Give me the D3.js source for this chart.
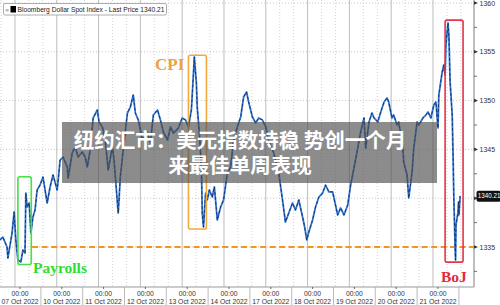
<!DOCTYPE html>
<html lang="zh">
<head>
  <meta charset="UTF-8">
  <title>Bloomberg Dollar Spot Index</title>
  <script src="https://cdn.jsdelivr.net/npm/d3@7"></script>
  <style>
    body { margin: 0; background: #fff; }
    svg { display: block; }
  </style>
</head>
<body>
<div id="grafica"></div>
<script>
// trading days since 07 Oct 2022 00:00 (weekend removed)
dayOffsets = [-0.48,-0.41,-0.31,-0.29,-0.19,-0.14,-0.10,-0.05,0.02,0.07,0.12,0.14,0.17,0.22,0.26,0.31,0.36,0.41,0.48,0.55,
  0.65,0.72,0.79,0.89,0.96,1.03,1.13,1.15,1.25,1.32,1.39,1.49,1.56,1.61,1.68,1.75,1.85,1.89,1.97,2.04,
  2.11,2.21,2.25,2.33,2.35,2.40,2.47,2.57,2.64,2.71,2.76,2.83,2.93,3.05,3.12,3.19,3.29,3.36,3.43,3.53,
  3.60,3.67,3.79,3.88,3.96,4.03,4.10,4.15,4.17,4.22,4.24,4.29,4.34,4.36,4.39,4.44,4.48,4.53,4.60,4.65,
  4.72,4.80,4.87,4.96,5.04,5.11,5.20,5.28,5.35,5.42,5.47,5.56,5.64,5.71,5.80,5.88,5.95,6.07,6.19,6.28,
  6.35,6.43,6.52,6.59,6.67,6.76,6.81,6.86,6.91,7.00,7.07,7.15,7.24,7.31,7.39,7.48,7.60,7.67,7.75,7.84,
  7.91,7.99,8.08,8.15,8.23,8.27,8.35,8.42,8.47,8.56,8.63,8.71,8.78,8.82,8.90,8.94,9.02,9.06,9.16,9.18,
  9.26,9.30,9.38,9.42,9.50,9.54,9.64,9.71,9.76,9.83,9.90,9.95,10.00,10.02,10.10,10.14,10.17,10.19,10.24,10.26,
  10.29,10.34,10.36,10.38,10.41,10.42,10.43,10.48,10.49,10.50,10.53]
prices = [1335.72,1336.02,1335.00,1333.87,1336.43,1338.59,1335.72,1333.67,1333.46,1334.69,1334.39,1340.53,1339.10,1339.51,1336.43,1338.07,1338.79,1340.84,1341.35,1342.17,
  1339.51,1341.15,1342.38,1340.84,1343.91,1344.22,1343.20,1342.07,1344.63,1345.25,1344.22,1344.73,1344.22,1343.20,1344.94,1348.22,1349.04,1347.81,1347.30,1345.96,
  1342.89,1345.25,1343.91,1339.51,1338.48,1342.17,1344.94,1348.73,1349.34,1350.57,1348.73,1348.01,1345.96,1346.78,1345.66,1348.52,1349.04,1348.01,1346.78,1345.96,
  1347.30,1346.68,1347.19,1348.22,1348.01,1347.30,1349.04,1352.83,1354.47,1351.80,1349.34,1346.68,1343.20,1338.48,1337.05,1340.53,1339.82,1340.84,1340.12,1341.15,
  1337.77,1339.10,1339.82,1342.58,1343.20,1345.96,1347.30,1348.32,1350.37,1350.88,1349.86,1348.32,1347.70,1348.22,1348.01,1347.30,1345.96,1344.63,1342.58,1339.82,
  1337.56,1338.48,1339.51,1338.79,1339.82,1338.07,1337.05,1335.72,1336.54,1337.77,1339.10,1340.12,1340.53,1341.35,1340.64,1340.64,1338.28,1339.00,1338.28,1339.30,
  1341.35,1343.09,1345.14,1346.78,1348.22,1345.14,1347.81,1348.73,1348.22,1347.81,1348.83,1349.86,1350.27,1349.86,1348.22,1348.52,1347.50,1347.81,1345.14,1343.71,
  1342.38,1340.02,1342.68,1345.14,1347.81,1347.50,1348.22,1348.52,1348.83,1348.22,1349.55,1349.86,1347.19,1350.57,1352.93,1353.65,1352.62,1355.70,1357.95,1356.72,
  1351.91,1348.52,1344.43,1339.82,1334.90,1333.67,1337.25,1338.59,1339.61,1338.28,1340.21]

dayLabels = ['07 Oct 2022','10 Oct 2022','11 Oct 2022','12 Oct 2022','13 Oct 2022','14 Oct 2022',
             '17 Oct 2022','18 Oct 2022','19 Oct 2022','20 Oct 2022','21 Oct 2022']
yTicks = [1335, 1340, 1345, 1350, 1355, 1360]
yMinorTicks = [1332.5, 1337.5, 1342.5, 1347.5, 1352.5, 1357.5]
lastPrice = 1340.21
payrollsLevel = 1335

// event boxes: [t0, t1, vLow, vHigh]
eventNames = ['Payrolls', 'CPI', 'BoJ']
eventSpans = [[-0.05, 0.27, 1333.2, 1342.2], [4.03, 4.46, 1336.85, 1354.65], [10.17, 10.60, 1333.45, 1358.25]]

ancho = 500
alto = 305

svg = d3.select('#grafica')
  .append('svg')
  .attr('width', ancho)
  .attr('height', alto)

x = d3.scaleLinear().domain([0, 10]).range([20, 438])
y = d3.scaleLinear().domain([1335, 1360]).range([247, 3])

plotRight = 474
plotBottom = 287

data = dayOffsets.map((t, i) => ({ t: t, v: prices[i] }))

// vertical grid: solid at session start, dotted every 8h
dias = d3.range(-1, 11)
dias.forEach(function(k) {
  s = k - 0.12
  if (x(s) > 0 && x(s) < plotRight) {
    svg.append('line').attr('x1', x(s)).attr('x2', x(s)).attr('y1', 0).attr('y2', plotBottom)
      .attr('stroke', '#bdbdbd').attr('stroke-width', 1)
  }
  ;[1/3, 2/3].forEach(function(f) {
    xx = x(s + f)
    if (xx > 0 && xx < plotRight) {
      svg.append('line').attr('x1', xx).attr('x2', xx).attr('y1', 0).attr('y2', plotBottom)
        .attr('stroke', '#c8c8c8').attr('stroke-width', 0.8).attr('stroke-dasharray', '1,2')
    }
  })
})

// horizontal grid
svg.selectAll('.hgrid').data(yTicks).enter().append('line')
  .attr('x1', 0).attr('x2', plotRight)
  .attr('y1', d => y(d)).attr('y2', d => y(d))
  .attr('stroke', '#bbbbbb').attr('stroke-width', 0.8).attr('stroke-dasharray', '1,2')

// payrolls low level
svg.append('line')
  .attr('x1', x(0.29)).attr('x2', plotRight)
  .attr('y1', y(payrollsLevel)).attr('y2', y(payrollsLevel))
  .attr('stroke', '#f7941d').attr('stroke-width', 2.2).attr('stroke-dasharray', '6,3.5')

// price line
linea = d3.line().x(d => x(d.t)).y(d => y(d.v))
svg.append('path').datum(data).attr('d', linea)
  .attr('fill', 'none').attr('stroke', '#3478d8').attr('stroke-width', 1.8)
  .attr('stroke-linejoin', 'round')
svg.append('path').datum(data).attr('d', linea)
  .attr('fill', 'none').attr('stroke', '#0b1830').attr('stroke-width', 0.8)
  .attr('stroke-dasharray', '3,2').attr('opacity', 0.85)

// event boxes
colores = ['#44e044', '#f2aa3c', '#e8344a']
eventSpans.forEach(function(e, i) {
  svg.append('rect')
    .attr('x', x(e[0])).attr('y', y(e[3]))
    .attr('width', x(e[1]) - x(e[0])).attr('height', y(e[2]) - y(e[3]))
    .attr('rx', 2).attr('fill', 'none')
    .attr('stroke', colores[i]).attr('stroke-width', 1.6)
})
svg.append('text').attr('x', x(0.31)).attr('y', 272.5).text(eventNames[0])
  .attr('font-family', 'Liberation Serif, serif').attr('font-weight', 'bold')
  .attr('font-size', '15.5px').attr('fill', '#2ede2e')
svg.append('text').attr('x', 155).attr('y', 69.5).text(eventNames[1])
  .attr('font-family', 'Liberation Serif, serif').attr('font-weight', 'bold')
  .attr('font-size', '17px').attr('fill', '#f0a13a')
svg.append('text').attr('x', 441).attr('y', 281.5).text(eventNames[2])
  .attr('font-family', 'Liberation Serif, serif').attr('font-weight', 'bold')
  .attr('font-size', '15.5px').attr('fill', '#e02a3c')

// right axis
svg.append('line').attr('x1', plotRight).attr('x2', plotRight).attr('y1', 0).attr('y2', plotBottom)
  .attr('stroke', '#a8a8a8').attr('stroke-width', 1.5)
svg.selectAll('.tmin').data(yMinorTicks.filter(d => y(d) > 0 && y(d) < plotBottom)).enter().append('line')
  .attr('x1', plotRight).attr('x2', plotRight + 3)
  .attr('y1', d => y(d)).attr('y2', d => y(d))
  .attr('stroke', '#555').attr('stroke-width', 0.8)
svg.selectAll('.tmaj').data(yTicks).enter().append('path')
  .attr('d', d => 'M' + plotRight + ',' + (y(d) - 1.8) + 'L' + (plotRight + 4) + ',' + y(d) + 'L' + plotRight + ',' + (y(d) + 1.8) + 'Z')
  .attr('fill', '#333')
// the 1340 label sits under the last price tag
svg.selectAll('.ylab').data(yTicks.filter(d => Math.abs(d - lastPrice) > 1)).enter().append('text')
  .attr('x', plotRight + 5.5).attr('y', d => y(d) + 2.5)
  .text(d => d)
  .attr('font-family', 'Liberation Sans, Arial, sans-serif').attr('font-size', '7px').attr('fill', '#333')

// last price tag
svg.append('rect').attr('x', plotRight + 2.5).attr('y', y(lastPrice) - 5.5)
  .attr('width', 24).attr('height', 11).attr('rx', 2).attr('fill', '#111')
svg.append('text').attr('x', plotRight + 3.8).attr('y', y(lastPrice) + 2.3)
  .text(lastPrice.toFixed(2))
  .attr('font-family', 'Liberation Sans, Arial, sans-serif').attr('font-size', '6.3px').attr('fill', '#fff')

// bottom axis
svg.append('line').attr('x1', 0).attr('x2', plotRight).attr('y1', plotBottom).attr('y2', plotBottom)
  .attr('stroke', '#999').attr('stroke-width', 1)
svg.selectAll('.sep').data(d3.range(0, 11)).enter().append('line')
  .attr('x1', d => x(d + 0.5)).attr('x2', d => x(d + 0.5))
  .attr('y1', plotBottom).attr('y2', alto)
  .attr('stroke', '#aaa').attr('stroke-width', 0.8)
svg.selectAll('.tk').data(d3.range(0, 11)).enter().append('line')
  .attr('x1', d => x(d)).attr('x2', d => x(d))
  .attr('y1', plotBottom).attr('y2', plotBottom + 2)
  .attr('stroke', '#444').attr('stroke-width', 0.8)
svg.selectAll('.hora').data(dayLabels).enter().append('text')
  .attr('x', (d, i) => x(i)).attr('y', 295.5).attr('text-anchor', 'middle')
  .text('00:00')
  .attr('font-family', 'Liberation Sans, Arial, sans-serif').attr('font-size', '6.8px').attr('fill', '#333')
svg.selectAll('.fecha').data(dayLabels).enter().append('text')
  .attr('x', (d, i) => x(i)).attr('y', 303.5).attr('text-anchor', 'middle')
  .text(d => d)
  .attr('font-family', 'Liberation Sans, Arial, sans-serif').attr('font-size', '6.8px').attr('fill', '#333')

// legend box
leyenda = svg.append('g')
leyenda.append('rect').attr('x', 3.5).attr('y', 3.5).attr('width', 163).attr('height', 11.5)
  .attr('rx', 1.5).attr('fill', '#fff').attr('stroke', '#999').attr('stroke-width', 0.8)
leyenda.append('text').attr('x', 5).attr('y', 11.5).text('≡')
  .attr('font-family', 'DejaVu Sans, sans-serif').attr('font-size', '5px').attr('fill', '#888')
leyenda.append('rect').attr('x', 10.5).attr('y', 6).attr('width', 5.5).attr('height', 6.5).attr('fill', '#000')
leyenda.append('text').attr('x', 17.5).attr('y', 11.8)
  .text('Bloomberg Dollar Spot Index - Last Price ' + lastPrice.toFixed(2))
  .attr('textLength', 147).attr('lengthAdjust', 'spacingAndGlyphs')
  .attr('font-family', 'Liberation Sans, Arial, sans-serif').attr('font-size', '7px').attr('fill', '#222')

// headline banner
svg.append('rect').attr('x', 62).attr('y', 122).attr('width', 375).attr('height', 61)
  .attr('fill', '#505050').attr('opacity', 0.66)
titulo = ['纽约汇市：美元指数持稳 势创一个月', '来最佳单周表现']
tituloTxt = svg.append('text').attr('text-anchor', 'middle')
  .attr('font-family', 'Noto Sans CJK SC, sans-serif').attr('font-weight', 'bold')
  .attr('font-size', '20.5px').attr('fill', '#fff')
tituloTxt.selectAll('tspan').data(titulo).enter().append('tspan')
  .attr('x', 240).attr('y', (d, i) => 147.5 + i * 25)
  .text(d => d)
</script>
</body>
</html>
